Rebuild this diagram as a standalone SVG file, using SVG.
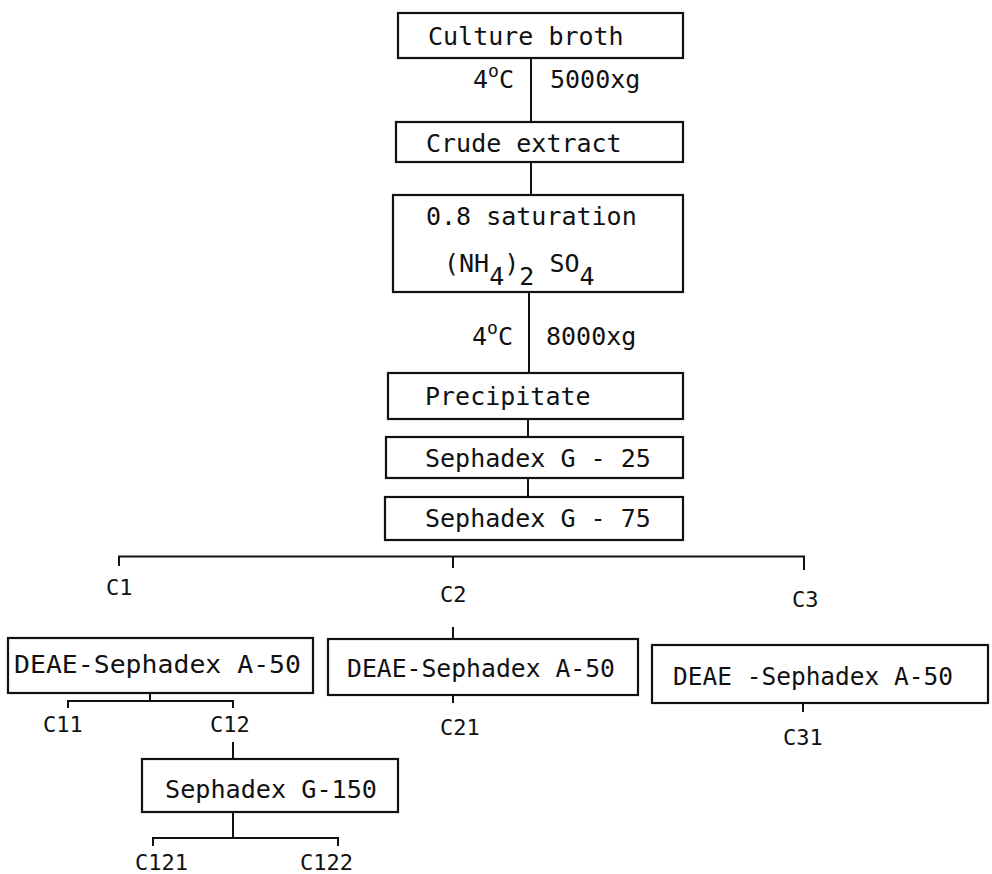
<svg xmlns="http://www.w3.org/2000/svg" width="992" height="874" viewBox="0 0 992 874">
<style>
.box{fill:#fff;stroke:#111;stroke-width:2.2}
.t{font-family:"DejaVu Sans Mono",monospace;font-size:25px;fill:#111}
.l{font-family:"DejaVu Sans Mono",monospace;font-size:22px;fill:#111}
.c{fill:none;stroke:#111;stroke-width:2}
</style>
<rect width="992" height="874" fill="#fff"/>
<g id="connectors">
<path class="c" d="M531,58V122M531,162V196M529,292V373M528,419V437M528,478V497"/>
<path class="c" d="M119,566V556.5H804V570M453,556.5V568M453,627V639"/>
<path class="c" d="M150,693V701M68,708V701H233V708M233,742V759"/>
<path class="c" d="M233,812V838M153,846V838H338V846"/>
<path class="c" d="M453,695V703M803,703V712"/>
<text class="t" x="473" y="88">4<tspan font-size="18" dy="-11">o</tspan><tspan dy="11">C</tspan></text>
<text class="t" x="550" y="88">5000xg</text>
<text class="t" x="472" y="345">4<tspan font-size="18" dy="-11">o</tspan><tspan dy="11">C</tspan></text>
<text class="t" x="546" y="345">8000xg</text>
</g>
<g id="n1"><rect class="box" x="398" y="13" width="285" height="45"/><text class="t" x="428" y="45">Culture broth</text></g>
<g id="n2"><rect class="box" x="396" y="122" width="287" height="40"/><text class="t" x="426" y="152">Crude extract</text></g>
<g id="n3"><rect class="box" x="393" y="195" width="290" height="97"/><text class="t" x="426" y="225">0.8 saturation</text>
<text class="t" x="444" y="272">(NH<tspan dy="13">4</tspan><tspan dy="-13">)</tspan><tspan dy="13">2</tspan><tspan dy="-13"> SO</tspan><tspan dy="13">4</tspan></text></g>
<g id="n4"><rect class="box" x="388" y="373" width="295" height="46"/><text class="t" x="425" y="405">Precipitate</text></g>
<g id="n5"><rect class="box" x="386" y="437" width="297" height="41"/><text class="t" x="425" y="467">Sephadex G - 25</text></g>
<g id="n6"><rect class="box" x="385" y="497" width="298" height="43"/><text class="t" x="425" y="527">Sephadex G - 75</text></g>
<g id="c1"><text class="l" x="106" y="595">C1</text></g>
<g id="c2"><text class="l" x="440" y="602">C2</text></g>
<g id="c3"><text class="l" x="792" y="607">C3</text></g>
<g id="n7"><rect class="box" x="8" y="638" width="305" height="55"/><text class="t" x="14" y="673" textLength="287" lengthAdjust="spacingAndGlyphs">DEAE-Sephadex A-50</text></g>
<g id="n9"><rect class="box" x="328" y="639" width="310" height="56"/><text class="t" x="347" y="677" textLength="268" lengthAdjust="spacingAndGlyphs">DEAE-Sephadex A-50</text></g>
<g id="n10"><rect class="box" x="652" y="645" width="336" height="58"/><text class="t" x="673" y="685" textLength="280" lengthAdjust="spacingAndGlyphs">DEAE -Sephadex A-50</text></g>
<g id="c11"><text class="l" x="43" y="732">C11</text></g>
<g id="c12"><text class="l" x="210" y="732">C12</text></g>
<g id="c21"><text class="l" x="440" y="735">C21</text></g>
<g id="c31"><text class="l" x="783" y="745">C31</text></g>
<g id="n8"><rect class="box" x="142" y="759" width="256" height="53"/><text class="t" x="165" y="798" textLength="212" lengthAdjust="spacingAndGlyphs">Sephadex G-150</text></g>
<g id="c121"><text class="l" x="135" y="870">C121</text></g>
<g id="c122"><text class="l" x="300" y="870">C122</text></g>
</svg>
